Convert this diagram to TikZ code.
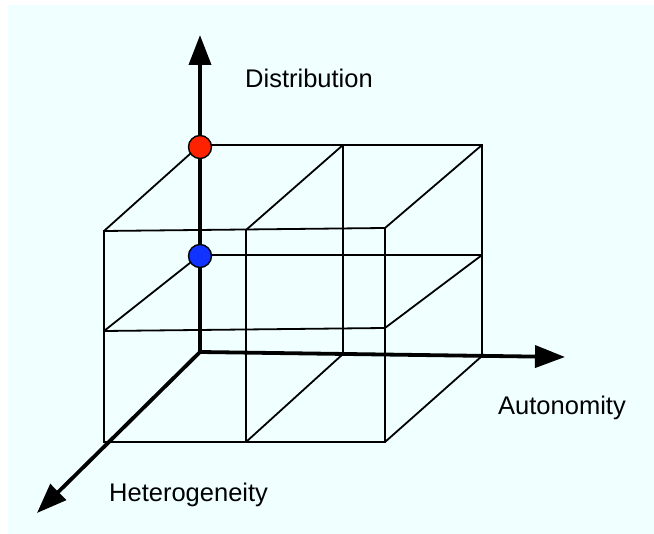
\documentclass[tikz,border=0pt]{standalone}
\usepackage{fontspec}
\setmainfont{Liberation Sans}
\usepackage{xcolor}
\usepackage{tikz}
\usetikzlibrary{arrows.meta}
\definecolor{bgcyan}{RGB}{240,255,255}
\definecolor{dotred}{RGB}{255,34,0}
\definecolor{dotblue}{RGB}{16,51,255}

\begin{document}
\begin{tikzpicture}[x=1pt, y=-1pt,
  edge/.style={line width=1.8pt},
  axis/.style={line width=3.8pt, -{Triangle[length=30pt, width=22pt]}},
  dot/.style={circle, draw, line width=1.4pt, minimum size=23pt, inner sep=0pt},
  lbl/.style={anchor=base west, inner sep=0pt, font=\fontsize{25.5}{30}\selectfont}]
\fill[white] (0,0) rectangle (654,534);
\fill[bgcyan] (8,5) rectangle (654,534);
\useasboundingbox (0,0) rectangle (654,534);
% back face
\coordinate (o) at (200,352);
\coordinate (btl) at (200,145);
\coordinate (bml) at (200,255);
\coordinate (btm) at (343,145);
\coordinate (bbm) at (343,354);
\coordinate (btr) at (482,145);
\coordinate (bmr) at (482,255);
\coordinate (bbr) at (482,356);
% front face
\coordinate (ftl) at (104,231);
\coordinate (ftm) at (246,230);
\coordinate (ftr) at (385,228);
\coordinate (fml) at (104,331);
\coordinate (fmr) at (385,328);
\coordinate (fbl) at (104,442);
\coordinate (fbm) at (246,442);
\coordinate (fbr) at (385,442);
% axis ends
\coordinate (zend) at (200,35);
\coordinate (xend) at (565,357);
\coordinate (yend) at (37,513);
\draw[edge] (btl) -- (btr) -- (bbr);
\draw[edge] (bml) -- (bmr);
\draw[edge] (btm) -- (bbm);
\draw[edge] (ftl) -- (ftr) -- (fbr) -- (fbl) -- cycle;
\draw[edge] (fml) -- (fmr);
\draw[edge] (ftm) -- (fbm);
\draw[edge] (ftl) -- (btl);
\draw[edge] (ftm) -- (btm);
\draw[edge] (ftr) -- (btr);
\draw[edge] (fml) -- (bml);
\draw[edge] (fmr) -- (bmr);
\draw[edge] (fbm) -- (bbm);
\draw[edge] (fbr) -- (bbr);
\draw[axis] (o) -- (zend);
\draw[axis] (o) -- (xend);
\draw[axis] (o) -- (yend);
\node[dot, fill=dotred] (red) at (200,147) {};
\node[dot, fill=dotblue] (blue) at (200,256) {};
\node[lbl] (dist) at (245,88) {Distribution};
\node[lbl] (auto) at (498,415) {Autonomity};
\node[lbl] (hete) at (109,502) {Heterogeneity};
\end{tikzpicture}
\end{document}
